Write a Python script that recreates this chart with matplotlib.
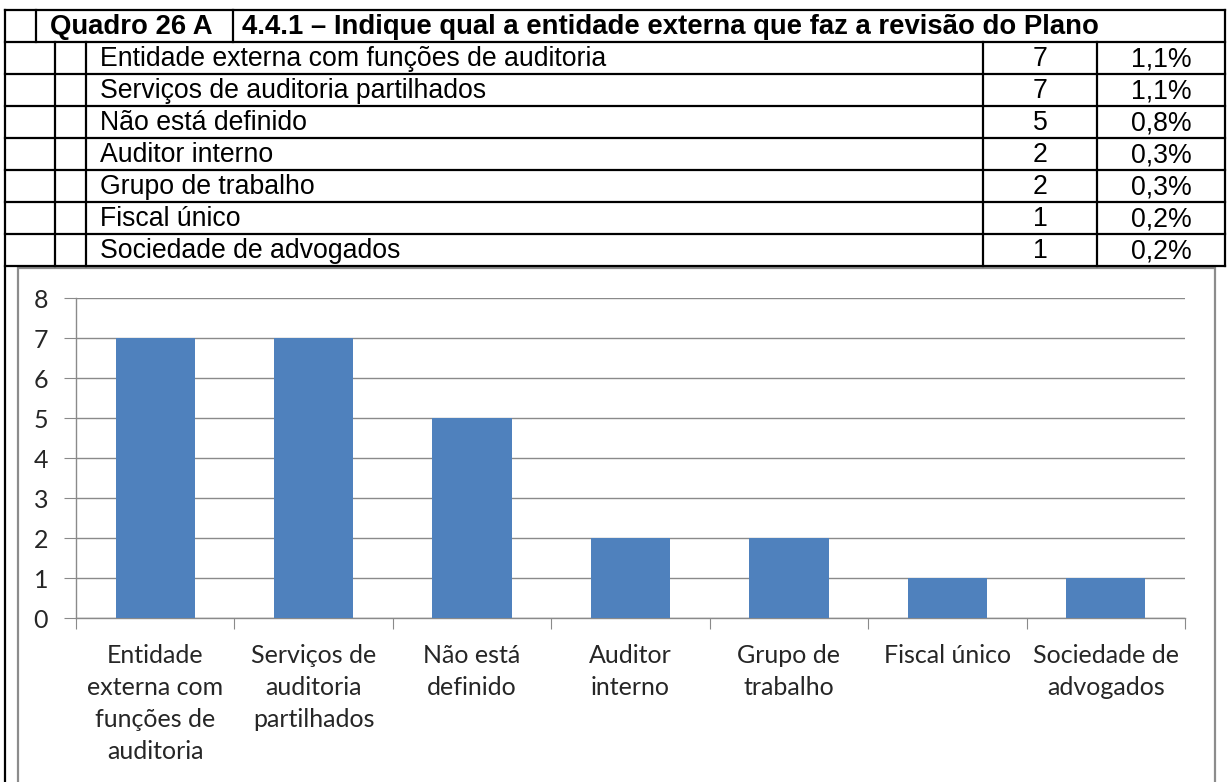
import matplotlib
matplotlib.use("Agg")
import matplotlib.pyplot as plt
from matplotlib.lines import Line2D
from matplotlib.patches import Rectangle

W, H = 1228, 782

# table data
header_code = "Quadro 26 A"
header_title = "4.4.1 – Indique qual a entidade externa que faz a revisão do Plano"
row_labels = [
    "Entidade externa com funções de auditoria",
    "Serviços de auditoria partilhados",
    "Não está definido",
    "Auditor interno",
    "Grupo de trabalho",
    "Fiscal único",
    "Sociedade de advogados",
]
counts = [7, 7, 5, 2, 2, 1, 1]
pcts = ["1,1%", "1,1%", "0,8%", "0,3%", "0,3%", "0,2%", "0,2%"]

# chart axis labels (wrapped as in the original)
bar_labels = [
    "Entidade\nexterna com\nfunções de\nauditoria",
    "Serviços de\nauditoria\npartilhados",
    "Não está\ndefinido",
    "Auditor\ninterno",
    "Grupo de\ntrabalho",
    "Fiscal único",
    "Sociedade de\nadvogados",
]


def fx(x):
    return x / W


def fy(y):
    return 1 - y / H


fig = plt.figure(figsize=(W / 100, H / 100), dpi=100)


def hline(y, x0, x1, color="black", lw=1.6):
    fig.add_artist(Line2D([fx(x0), fx(x1)], [fy(y), fy(y)], color=color, lw=lw,
                          solid_capstyle="projecting"))


def vline(x, y0, y1, color="black", lw=1.6):
    fig.add_artist(Line2D([fx(x), fx(x)], [fy(y0), fy(y1)], color=color, lw=lw,
                          solid_capstyle="projecting"))


# table grid
row_h = 32
top = 10
hdr_bot = 42
hline(top, 5, 1225)
hline(hdr_bot, 5, 1225)
for i in range(len(row_labels)):
    hline(hdr_bot + (i + 1) * row_h, 5, 1225)
tbl_bot = hdr_bot + len(row_labels) * row_h
vline(5, top, H)
vline(36, top, hdr_bot)
vline(233, top, hdr_bot)
vline(1225, top, tbl_bot)
for x in [55, 86, 983, 1097]:
    vline(x, hdr_bot, tbl_bot)

tfont = dict(family="Liberation Sans", fontsize=19.2)
bfont = dict(family="Liberation Sans", fontsize=19.8, fontweight="bold")
fig.text(fx(50), fy((top + hdr_bot) / 2 + 1), header_code, ha="left", va="center", **bfont)
fig.text(fx(242), fy((top + hdr_bot) / 2 + 1), header_title, ha="left", va="center", **bfont)
for i, (lab, c, p) in enumerate(zip(row_labels, counts, pcts)):
    yc = fy(hdr_bot + i * row_h + row_h / 2 + 1)
    fig.text(fx(100), yc, lab, ha="left", va="center", **tfont)
    fig.text(fx(1040), yc, str(c), ha="center", va="center", **tfont)
    fig.text(fx(1192), yc, p, ha="right", va="center", **tfont)

# chart frame
fig.add_artist(Rectangle((fx(18), fy(H + 10)), fx(1215 - 18), fy(268) - fy(H + 10),
                         fill=False, edgecolor="#8c8c8c", lw=1.6))

# chart
ax = fig.add_axes([fx(76), fy(618), fx(1185 - 76), fy(298) - fy(618)])
x = range(len(counts))
ax.bar(x, counts, width=0.5, color="#4f81bd", zorder=3)
ax.set_xlim(-0.5, len(counts) - 0.5)
ax.set_ylim(0, 8)
ax.set_yticks(range(0, 9))
ax.yaxis.grid(True, color="#8a8a8a", lw=1.0, zorder=0)
for s in ["top", "right"]:
    ax.spines[s].set_visible(False)
for s in ["left", "bottom"]:
    ax.spines[s].set_color("#8a8a8a")
    ax.spines[s].set_linewidth(1.0)
ax.tick_params(axis="y", length=9, color="#8a8a8a", pad=11, labelsize=18)
ax.set_xticks([i - 0.5 for i in range(len(counts) + 1)])
ax.set_xticklabels([])
ax.set_xticks(list(x), minor=True)
ax.set_xticklabels(bar_labels, minor=True)
ax.tick_params(axis="x", which="major", length=8, color="#8a8a8a")
ax.tick_params(axis="x", which="minor", length=0, pad=19, labelsize=18)
for t in ax.get_xticklabels(minor=True) + ax.get_yticklabels():
    t.set_family("Lato")
    t.set_color("#262626")
for t in ax.get_xticklabels(minor=True):
    t.set_linespacing(1.47)

fig.savefig("out.png", dpi=100)
